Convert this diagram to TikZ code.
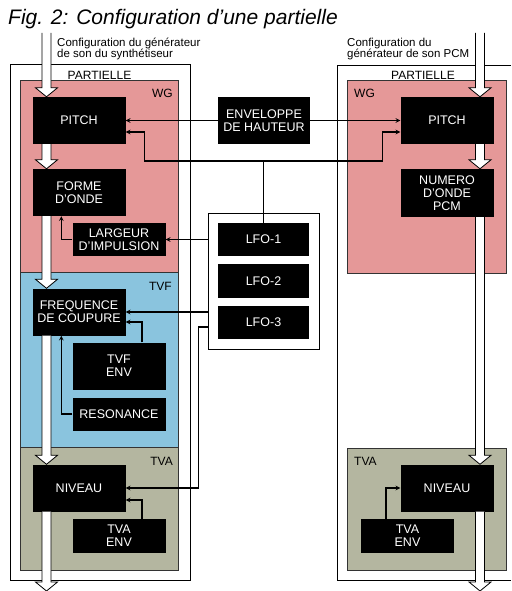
\documentclass[tikz,border=0pt]{standalone}
\usepackage{fontspec}
\setsansfont{Liberation Sans}
\usetikzlibrary{calc}

\definecolor{wgpink}{RGB}{229,152,152}
\definecolor{tvfblue}{RGB}{138,196,222}
\definecolor{tvagray}{RGB}{180,182,160}

% big white flow arrow: from #1 down to the tip #2
\newcommand\fatarrow[2]{%
  \draw[fatarr] let \p1=(#1), \p2=(#2) in
    (\x2-4.5pt,\y1) -- (\x2-4.5pt,\y2+9pt) -- (\x2-11pt,\y2+9pt) -- (\x2,\y2)
    -- (\x2+11pt,\y2+9pt) -- (\x2+4.5pt,\y2+9pt) -- (\x2+4.5pt,\y1);}

\begin{document}
\begin{tikzpicture}[x=1pt,y=-1pt,>=stealth,font=\sffamily,
  unit/.style={fill=black,text=white,align=center,minimum width=93pt,inner sep=0pt,
    font=\sffamily\fontsize{12.5}{13}\selectfont},
  tall/.style={unit,minimum height=47pt},
  flat/.style={unit,minimum height=33pt},
  zone/.style={draw=black!80,line width=0.9pt},
  link/.style={->,line width=1.1pt},
  fatarr/.style={draw=black,fill=white,line width=0.8pt},
  tag/.style={inner sep=0pt,font=\sffamily\fontsize{12}{12}\selectfont}]
  \useasboundingbox[fill=white] (0,0) rectangle (511,591);

  \node[anchor=base west,inner sep=0pt,font=\sffamily\itshape\fontsize{21}{21}\selectfont]
    (title) at (8,25) {Fig. 2: Configuration d'une partielle};
  \node[anchor=north west,align=left,inner sep=0pt,font=\sffamily\fontsize{11.5}{11}\selectfont]
    (hdL) at (57,37.5) {Configuration du générateur\\de son du synthétiseur};
  \node[anchor=north west,align=left,inner sep=0pt,font=\sffamily\fontsize{11.5}{11}\selectfont]
    (hdR) at (347,37.5) {Configuration du\\générateur de son PCM};

  % partials
  \draw[line width=0.9pt] (10,64) rectangle (190,580);
  \draw[line width=0.9pt] (511,65) -| (337,580) -- (511,580);
  \filldraw[zone,fill=wgpink] (20,80) rectangle (178,272);
  \filldraw[zone,fill=tvfblue] (20,272) rectangle (178,447);
  \filldraw[zone,fill=tvagray] (20,447) rectangle (178,570);
  \filldraw[zone,fill=wgpink] (347,80) rectangle (506,273);
  \filldraw[zone,fill=tvagray] (347,448) rectangle (506,570);

  \node[tag,anchor=base] (partL) at (99.5,79.5) {PARTIELLE};
  \node[tag,anchor=base] (partR) at (423,79.5) {PARTIELLE};
  \node[tag,anchor=base east] (wgL) at (173,98) {WG};
  \node[tag,anchor=base west] (wgR) at (354,98) {WG};
  \node[tag,anchor=base east] (tvf) at (172,290) {TVF};
  \node[tag,anchor=base east] (tvaL) at (173,465) {TVA};
  \node[tag,anchor=base west] (tvaR) at (354,465) {TVA};

  \node[tall] (pitchL) at (79,120.5) {PITCH};
  \node[tall] (formeL) at (79,192.5) {FORME\\D'ONDE};
  \node[flat] (largeur) at (119,239.5) {LARGEUR\\D'IMPULSION};
  \node[tall] (freq) at (79,312) {FREQUENCE\\DE COUPURE};
  \node[tall] (tvfenv) at (119,366) {TVF\\ENV};
  \node[flat] (reso) at (119,414) {RESONANCE};
  \node[tall] (nivL) at (79,488) {NIVEAU};
  \node[flat,minimum height=34pt] (tvaenvL) at (119,536) {TVA\\ENV};

  \node[tall,minimum width=92pt] (env) at (264,120.5) {ENVELOPPE\\DE HAUTEUR};
  \node[draw,fill=white,line width=1pt,minimum width=111pt,minimum height=136pt]
    (lfobox) at (263.5,281) {};
  \node[flat,minimum width=91pt] (lfo1) at (263.5,239.5) {LFO-1};
  \node[flat,minimum width=91pt,minimum height=34pt] (lfo2) at (263.5,281) {LFO-2};
  \node[flat,minimum width=91pt] (lfo3) at (263.5,322.5) {LFO-3};

  \node[tall] (pitchR) at (447,120.5) {PITCH};
  \node[tall,minimum height=48pt] (numero) at (447,193) {NUMERO\\D'ONDE\\PCM};
  \node[tall] (nivR) at (447,488) {NIVEAU};
  \node[flat,minimum height=34pt] (tvaenvR) at (407.5,536) {TVA\\ENV};

  % signal flow
  \coordinate (axL) at (46.5,0);
  \coordinate (axR) at (480,0);
  \coordinate (inL) at (46.5,33);
  \coordinate (inR) at (480,33);
  \coordinate (outL) at (46.5,591);
  \coordinate (outR) at (480,591);
  \fatarrow{inL}{pitchL.north -| axL}
  \fatarrow{pitchL.south -| axL}{formeL.north -| axL}
  \fatarrow{formeL.south -| axL}{freq.north -| axL}
  \fatarrow{freq.south -| axL}{nivL.north -| axL}
  \fatarrow{nivL.south -| axL}{outL}
  \fatarrow{inR}{pitchR.north -| axR}
  \fatarrow{pitchR.south -| axR}{numero.north -| axR}
  \fatarrow{numero.south -| axR}{nivR.north -| axR}
  \fatarrow{nivR.south -| axR}{outR}

  % modulation
  \coordinate (hub) at (263.5,161);
  \draw[link] (env.west) -- (pitchL.east);
  \draw[link] (env.east) -- (pitchR.west);
  \draw[link] (lfo1.north) -- (hub) -| ([xshift=19pt,yshift=-11.5pt]pitchL.east)
    -- ([yshift=-11.5pt]pitchL.east);
  \draw[link] (hub) -| ([xshift=-18pt,yshift=-11.5pt]pitchR.west)
    -- ([yshift=-11.5pt]pitchR.west);
  \draw[link] (lfobox.west |- largeur.east) -- (largeur.east);
  \draw[link] (lfobox.west |- freq.east) -- (freq.east);
  \draw[link] ($(lfobox.west |- freq.east)+(0,15)$) -| ($(nivL.east)+(72.5,0)$) -- (nivL.east);
  \draw[link] (largeur.west) -| ($(formeL.south west)+(29,0)$);
  \draw[link] (reso.west) -| ($(freq.south west)+(29,0)$);
  \draw[link] ($(tvfenv.north)+(23,0)$) |- ($(freq.east)+(0,10)$);
  \draw[link] ($(tvaenvL.north)+(23,0)$) |- ($(nivL.east)+(0,12)$);
  \draw[link] ($(tvaenvR.north)+(-21.5,0)$) |- (nivR.west);
\end{tikzpicture}
\end{document}
